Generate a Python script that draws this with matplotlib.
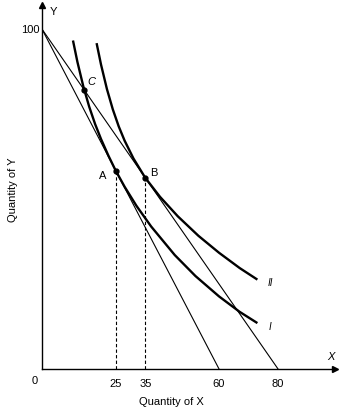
import matplotlib
matplotlib.use('Agg')
import matplotlib.pyplot as plt

plt.rcParams['font.family'] = ['Liberation Sans', 'DejaVu Sans']

# Budget lines: intercepts on each axis
y_intercept = 100
x_int_1 = 60
x_int_2 = 80

# Indifference curve I (tangent to line 1 at A)
curve1_x = [10.5, 12, 14, 16, 18, 20, 22.5, 25, 28, 32, 37, 45, 52, 60, 67, 73]
curve1_y = [96.66, 90.36, 83.16, 77.16, 72.06, 67.66, 62.78, 58.33, 53.62, 48.02,
            41.92, 33.52, 27.36, 21.36, 16.81, 13.51]

# Indifference curve II (tangent to line 2 at B)
curve2_x = [18.5, 20, 22, 24, 26, 28, 31, 35, 40, 46, 53, 60, 67, 73]
curve2_y = [95.88, 89.58, 82.38, 76.38, 71.38, 67.18, 61.93, 56.25, 50.65, 44.95,
            39.2, 34.2, 29.7, 26.3]

# Labelled points
point_A = (25, 58.33)
point_B = (35, 56.25)
point_C = (14.4, 82.0)

xtick_vals = [25, 35, 60, 80]
ytick_vals = [100]

fig = plt.figure(figsize=(3.43, 4.11), dpi=100)
ax = fig.add_axes([42 / 343, 42 / 411, 293 / 343, 364 / 411])
ax.set_xlim(0, 99.3)
ax.set_ylim(0, 107.1)

# budget lines
ax.plot([0, x_int_1], [y_intercept, 0], color='black', lw=0.8)
ax.plot([0, x_int_2], [y_intercept, 0], color='black', lw=0.8)

# indifference curves
ax.plot(curve1_x, curve1_y, color='black', lw=1.7, solid_capstyle='butt', solid_joinstyle='round')
ax.plot(curve2_x, curve2_y, color='black', lw=1.7, solid_capstyle='butt', solid_joinstyle='round')

# dashed drop lines
for px, py in (point_A, point_B):
    ax.plot([px, px], [0, py], color='black', lw=0.8, dashes=(3, 2))

# points
for px, py in (point_A, point_B, point_C):
    ax.plot(px, py, 'o', color='black', ms=3.5)

fs = 8
ax.text(point_A[0] - 4.4, point_A[1] - 1.5, 'A', fontsize=fs, ha='center', va='center')
ax.text(point_B[0] + 2.8, point_B[1] + 1.5, 'B', fontsize=fs, ha='center', va='center')
ax.text(point_C[0] + 2.4, point_C[1] + 2.4, 'C', fontsize=fs, ha='center', va='center', style='italic')
ax.text(curve2_x[-1] + 4.3, curve2_y[-1] - 1.0, 'II', fontsize=fs - 1, ha='center', va='center', style='italic')
ax.text(curve1_x[-1] + 4.3, curve1_y[-1] - 1.2, 'I', fontsize=fs - 1, ha='center', va='center', style='italic')

# axes styling
for side in ('top', 'right'):
    ax.spines[side].set_visible(False)
ax.spines['left'].set_linewidth(1.0)
ax.spines['bottom'].set_linewidth(1.0)
ax.set_xticks(xtick_vals)
ax.set_xticklabels([str(v) for v in xtick_vals])
ax.set_yticks(ytick_vals)
ax.set_yticklabels([str(v) for v in ytick_vals])
ax.tick_params(length=0, labelsize=fs)
ax.tick_params(axis='x', pad=7)
ax.tick_params(axis='y', pad=2)
ax.text(-2.4, -3.6, '0', fontsize=fs, ha='center', va='center', clip_on=False)

# arrowheads at the axis ends
ax.plot(1, 0, '>', color='black', ms=4, transform=ax.get_yaxis_transform(), clip_on=False)
ax.plot(0, 1, '^', color='black', ms=4, transform=ax.get_xaxis_transform(), clip_on=False)
ax.text(3.8, 105.0, 'Y', fontsize=fs, ha='center', va='center', clip_on=False)
ax.text(98.0, 3.4, 'X', fontsize=fs, ha='center', va='center', style='italic', clip_on=False)

fig.text(171 / 343, 1 - 402 / 411, 'Quantity of X', fontsize=fs, ha='center', va='center')
fig.text(13 / 343, 1 - 190 / 411, 'Quantity of Y', fontsize=fs, ha='center', va='center', rotation=90)

fig.savefig('out.png', dpi=100)
